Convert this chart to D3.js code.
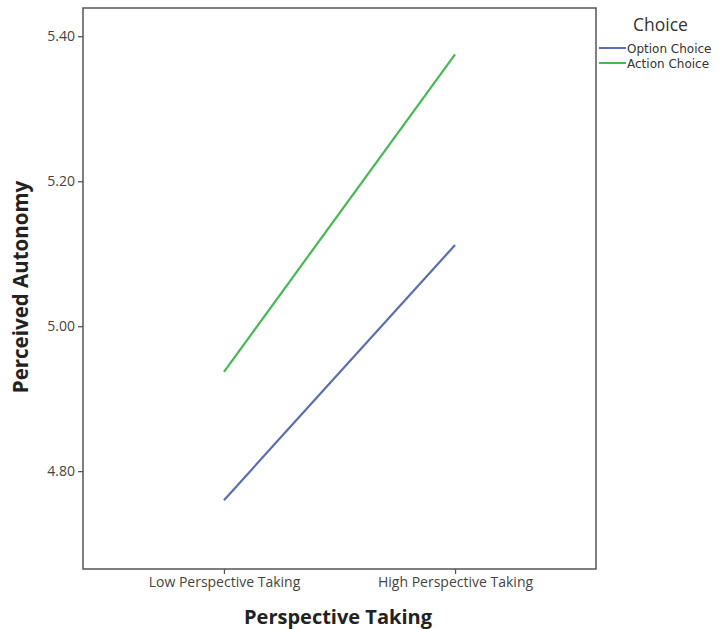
<!DOCTYPE html>
<html>
<head>
<meta charset="utf-8">
<script src="https://cdn.jsdelivr.net/npm/d3@7"></script>
<style>
  body { margin: 0; background: #fff; }
  text { font-family: "Open Sans", "DejaVu Sans", sans-serif; }
</style>
</head>
<body>
<svg id="chart" width="723" height="629"></svg>
<script>
// data
const categories = ["Low Perspective Taking", "High Perspective Taking"];
const seriesNames = ["Option Choice", "Action Choice"];
const optionChoice = [4.760, 5.112];
const actionChoice = [4.937, 5.375];
const yTicks = [4.80, 5.00, 5.20, 5.40];
const colors = ["#5b6db0", "#46b955"];

const svg = d3.select("#chart");
const frame = {left: 83, top: 8, right: 596, bottom: 569};

const x = d3.scalePoint()
  .domain(categories)
  .range([frame.left, frame.right])
  .padding(0.61);

const y = d3.scaleLinear()
  .domain([4.665, 5.439])
  .range([frame.bottom, frame.top]);

// plot frame
svg.append("rect")
  .attr("x", frame.left).attr("y", frame.top)
  .attr("width", frame.right - frame.left)
  .attr("height", frame.bottom - frame.top)
  .attr("fill", "none").attr("stroke", "#555").attr("stroke-width", 1.5);

// axes
const yAxis = svg.append("g")
  .attr("transform", "translate(" + frame.left + ",0)")
  .call(d3.axisLeft(y).tickValues(yTicks).tickFormat(d3.format(".2f")).tickSize(5).tickSizeOuter(0).tickPadding(3));
const xAxis = svg.append("g")
  .attr("transform", "translate(0," + frame.bottom + ")")
  .call(d3.axisBottom(x).tickSize(5).tickSizeOuter(0).tickPadding(3));

[yAxis, xAxis].forEach(function(g) {
  g.select(".domain").remove();
  g.selectAll("line").attr("stroke", "#555").attr("stroke-width", 1.3);
  g.selectAll("text").attr("fill", "#444").style("font-size", "14px")
    .style("font-family", "'Open Sans', 'DejaVu Sans', sans-serif");
});

// lines
const series = [optionChoice, actionChoice];
const line = d3.line()
  .x(function(d, i) { return x(categories[i]); })
  .y(function(d) { return y(d); });

series.forEach(function(vals, s) {
  svg.append("path")
    .attr("d", line(vals))
    .attr("fill", "none")
    .attr("stroke", colors[s])
    .attr("stroke-width", 2.2);
});

// axis titles
svg.append("text")
  .attr("x", 338).attr("y", 624)
  .attr("text-anchor", "middle")
  .attr("fill", "#222")
  .style("font-size", "20px").style("font-weight", "bold")
  .text("Perspective Taking");

svg.append("text")
  .attr("transform", "translate(28," + 287 + ") rotate(-90)")
  .attr("text-anchor", "middle")
  .attr("fill", "#222")
  .style("font-size", "20.5px").style("font-weight", "bold")
  .text("Perceived Autonomy");

// legend
const legend = svg.append("g");
legend.append("text")
  .attr("x", 633).attr("y", 31)
  .attr("fill", "#333")
  .style("font-size", "17.5px")
  .text("Choice");

seriesNames.forEach(function(name, i) {
  const ly = 48 + i * 15;
  legend.append("line")
    .attr("x1", 599).attr("x2", 626)
    .attr("y1", ly).attr("y2", ly)
    .attr("stroke", colors[i]).attr("stroke-width", 2);
  legend.append("text")
    .attr("x", 627).attr("y", ly + 4.5)
    .attr("fill", "#333")
    .style("font-family", "'DejaVu Sans', sans-serif")
    .style("font-size", "12px")
    .text(name);
});
</script>
</body>
</html>
